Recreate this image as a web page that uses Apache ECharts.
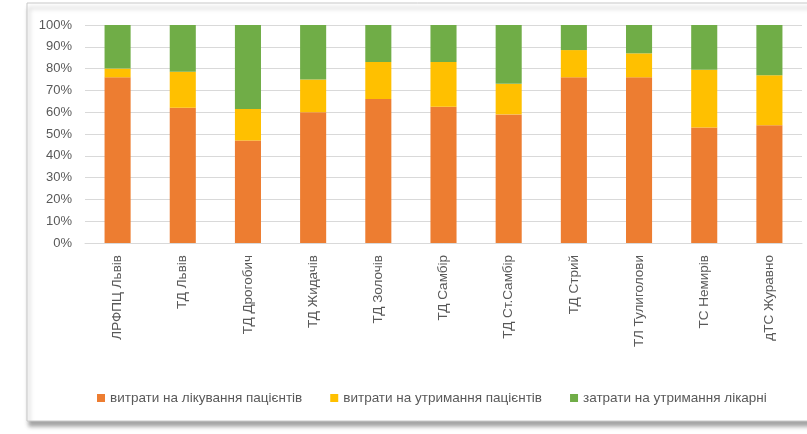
<!DOCTYPE html>
<html>
<head>
<meta charset="utf-8">
<script src="https://cdn.jsdelivr.net/npm/echarts@6/dist/echarts.min.js"></script>
<style>
  html, body { margin: 0; padding: 0; background: #fff; }
  #myChart { width: 807px; height: 434px; }
</style>
</head>
<body>
<div id="myChart"></div>
<script type="text/javascript">

  // categories (departments)
  var categories = [
    "ЛРФПЦ Львів", "ТД Львів", "ТД Дрогобич", "ТД Жидачів", "ТД Золочів",
    "ТД Самбір", "ТД Ст.Самбір", "ТД Стрий", "ТЛ Тулиголови", "ТС Немирів", "дТС Журавно"
  ];

  // shares, %
  var treatment = [76, 62, 47, 60, 66, 62.5, 59, 76, 76, 53, 54];
  var patientUpkeep = [4, 16.5, 14.5, 15, 17, 20.5, 14, 12.5, 11, 26.5, 23];
  var hospitalUpkeep = [20, 21.5, 38.5, 25, 17, 17, 27, 11.5, 13, 20.5, 23];

  var seriesNames = [
    "витрати на лікування пацієнтів",
    "витрати на утримання пацієнтів",
    "затрати на утримання лікарні"
  ];
  var colors = ["#ED7D31", "#FFC000", "#70AD47"];

  var textColor = "#595959";
  var fontFamily = "Liberation Sans, Arial, sans-serif";

  var chartDom = document.getElementById("myChart");
  var myChart = echarts.init(chartDom);

  var option = {
    backgroundColor: "#ffffff",
    animation: false,
    color: colors,
    textStyle: { fontFamily: fontFamily },
    graphic: [
      {
        type: "rect",
        z: -10,
        shape: { x: 27, y: 3, width: 790, height: 418 },
        style: {
          fill: "#ffffff",
          stroke: "#c8c8c8",
          lineWidth: 1,
          shadowColor: "rgba(0,0,0,0.35)",
          shadowBlur: 4,
          shadowOffsetX: 2,
          shadowOffsetY: 5
        }
      }
    ],
    grid: {
      left: 85,
      right: 5,
      top: 25,
      bottom: 191,
      containLabel: false
    },
    legend: {
      left: 92,
      top: 386,
      itemWidth: 8,
      itemHeight: 8,
      itemGap: 28,
      icon: "rect",
      textStyle: { color: textColor, fontSize: 13.5 },
      data: seriesNames
    },
    xAxis: {
      type: "category",
      data: categories,
      axisLine: { show: true, lineStyle: { color: "#d9d9d9" } },
      axisTick: { show: false },
      axisLabel: {
        rotate: 90,
        interval: 0,
        color: textColor,
        fontSize: 13.5,
        margin: 12
      }
    },
    yAxis: {
      type: "value",
      min: 0,
      max: 100,
      interval: 10,
      axisLine: { show: false },
      axisTick: { show: false },
      splitLine: { lineStyle: { color: "#d9d9d9", width: 1 } },
      axisLabel: {
        color: textColor,
        fontSize: 13,
        margin: 13,
        formatter: "{value}%"
      }
    },
    series: [
      { name: seriesNames[0], type: "bar", stack: "total", barWidth: "40%", data: treatment },
      { name: seriesNames[1], type: "bar", stack: "total", barWidth: "40%", data: patientUpkeep },
      { name: seriesNames[2], type: "bar", stack: "total", barWidth: "40%", data: hospitalUpkeep }
    ]
  };

  option && myChart.setOption(option);
</script>
</body>
</html>
